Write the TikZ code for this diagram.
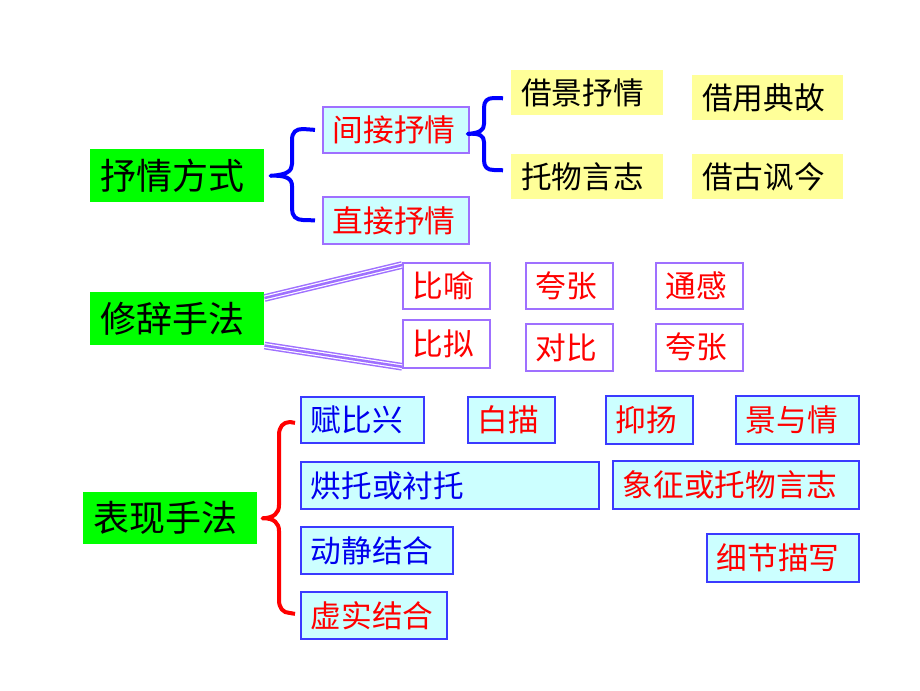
\documentclass[tikz,border=0pt]{standalone}
\usepackage{fontspec}
\setmainfont{Noto Sans CJK SC}
\usetikzlibrary{calc}
\definecolor{gbox}{HTML}{00FF00}
\definecolor{cbox}{HTML}{CCFFFF}
\definecolor{ybox}{HTML}{FFFF99}
\definecolor{pline}{HTML}{9F70FF}
\definecolor{bline}{HTML}{3A3AFF}
\definecolor{btext}{HTML}{0000EE}
\definecolor{rtext}{HTML}{FF0000}
\tikzset{
  greenbox/.style={fill=gbox, text=black, font=\fontsize{27}{30}\selectfont},
  yellowbox/.style={fill=ybox, text=black, font=\fontsize{23}{26}\selectfont},
  cpbox/.style={fill=cbox, draw=pline, line width=1.3pt, font=\fontsize{23}{26}\selectfont},
  wpbox/.style={fill=white, draw=pline, line width=1.3pt, text=rtext, font=\fontsize{23}{26}\selectfont},
  cbbox/.style={fill=cbox, draw=bline, line width=1.3pt, font=\fontsize{23}{26}\selectfont},
  bluebrace/.style={draw=blue, line width=3pt, line join=round},
  redbrace/.style={draw=red, line width=3pt, line join=round},
  tri/.style={preaction={draw=pline, line width=5.8pt}, preaction={draw=white, line width=3.6pt}, draw=pline, line width=1.9pt}
}
\newcommand\mkbox[7]{%
  \pgfmathsetmacro\bw{(#5-#3-20)*0.75}%
  \pgfmathsetmacro\bh{(#6-#4)*0.75}%
  \node[#2, text width=\bw pt, minimum height=\bh pt, inner xsep=7.5pt, inner ysep=0pt, align=left, anchor=north west] (#1) at (#3,#4) {#7};%
}
\begin{document}
\begin{tikzpicture}[x=0.75pt,y=-0.75pt]
\path[use as bounding box, fill=white] (0,0) rectangle (920,690);
% group 1
\mkbox{fs}{greenbox}{90}{149}{264}{202}{抒情方式}
\mkbox{jj}{cpbox, text=rtext}{322}{106}{468}{152}{间接抒情}
\mkbox{zj}{cpbox, text=rtext}{322}{196}{468}{243}{直接抒情}
\mkbox{jq}{yellowbox}{511}{70}{663}{115}{借景抒情}
\mkbox{tw}{yellowbox}{511}{154}{663}{199}{托物言志}
\mkbox{jy}{yellowbox}{692}{75}{843}{120}{借用典故}
\mkbox{jg}{yellowbox}{692}{154}{843}{199}{借古讽今}
% group 2
\mkbox{xc}{greenbox}{90}{292}{264}{345}{修辞手法}
\mkbox{by}{wpbox}{402}{262}{489}{308}{比喻}
\mkbox{bn}{wpbox}{402}{319}{489}{367}{比拟}
\mkbox{kz}{wpbox}{525}{262}{612}{308}{夸张}
\mkbox{tg}{wpbox}{655}{262}{742}{308}{通感}
\mkbox{db}{wpbox}{525}{323}{612}{370}{对比}
\mkbox{kzb}{wpbox}{655}{323}{742}{370}{夸张}
% group 3
\mkbox{bx}{greenbox}{83}{492}{257}{544}{表现手法}
\mkbox{fbx}{cbbox, text=btext}{300}{396}{423}{442}{赋比兴}
\mkbox{bm}{cbbox, text=rtext}{467}{396}{554}{442}{白描}
\mkbox{yy}{cbbox, text=rtext}{605}{395}{692}{443}{抑扬}
\mkbox{jyq}{cbbox, text=rtext}{735}{395}{858}{443}{景与情}
\mkbox{ht}{cbbox, text=btext}{300}{461}{598}{508}{烘托或衬托}
\mkbox{xz}{cbbox, text=rtext}{612}{460}{858}{508}{象征或托物言志}
\mkbox{dj}{cbbox, text=btext}{300}{526}{452}{573}{动静结合}
\mkbox{xs}{cbbox, text=rtext}{300}{591}{446}{638}{虚实结合}
\mkbox{xj}{cbbox, text=rtext}{706}{533}{858}{581}{细节描写}
% brace 1
\coordinate (b1t) at ($(jj.west)+(-7,0)$);
\coordinate (b1b) at ($(zj.west)+(-7,0)$);
\coordinate (b1m) at ($(fs.east)+(6,0)$);
\draw[bluebrace] (b1t) -- (303,129) .. controls (296,129) and (292,132) .. (292,140) -- (292,164) .. controls (292,171) and (287,175) .. (b1m) .. controls (287,175) and (292,179) .. (292,186) -- (292,209) .. controls (292,216) and (296,220) .. (303,220) -- (b1b);
% brace 2
\coordinate (b2m) at ($(jj.east)+(-2,4)$);
\coordinate (b2t) at ($(jq.west)+(-8,5.5)$);
\coordinate (b2b) at ($(tw.west)+(-8,-6.5)$);
\draw[bluebrace] (b2t) -- (494,98) .. controls (487,98) and (484,101) .. (484,108) -- (484,124) .. controls (484,130) and (480,133) .. (b2m) .. controls (480,133) and (484,136) .. (484,142) -- (484,160) .. controls (484,167) and (487,170) .. (494,170) -- (b2b);
% brace 3
\coordinate (b3m) at ($(bx.east)+(5,0)$);
\coordinate (b3t) at ($(fbx.west)+(-5,3)$);
\coordinate (b3b) at ($(xs.west)+(-5,-1.5)$);
\draw[redbrace] (b3t) -- (290,422) .. controls (283,422) and (279,427) .. (279,435) -- (279,505) .. controls (279,513) and (274,518) .. (b3m) .. controls (274,518) and (279,523) .. (279,531) -- (279,600) .. controls (279,608) and (283,613) .. (290,613) -- (b3b);
% triple lines
\draw[tri] ($(xc.north east)+(0,6)$) -- ($(by.north west)+(0,3)$);
\draw[tri] ($(xc.south east)+(0,0)$) -- ($(bn.south west)+(0,-2)$);
\end{tikzpicture}
\end{document}
